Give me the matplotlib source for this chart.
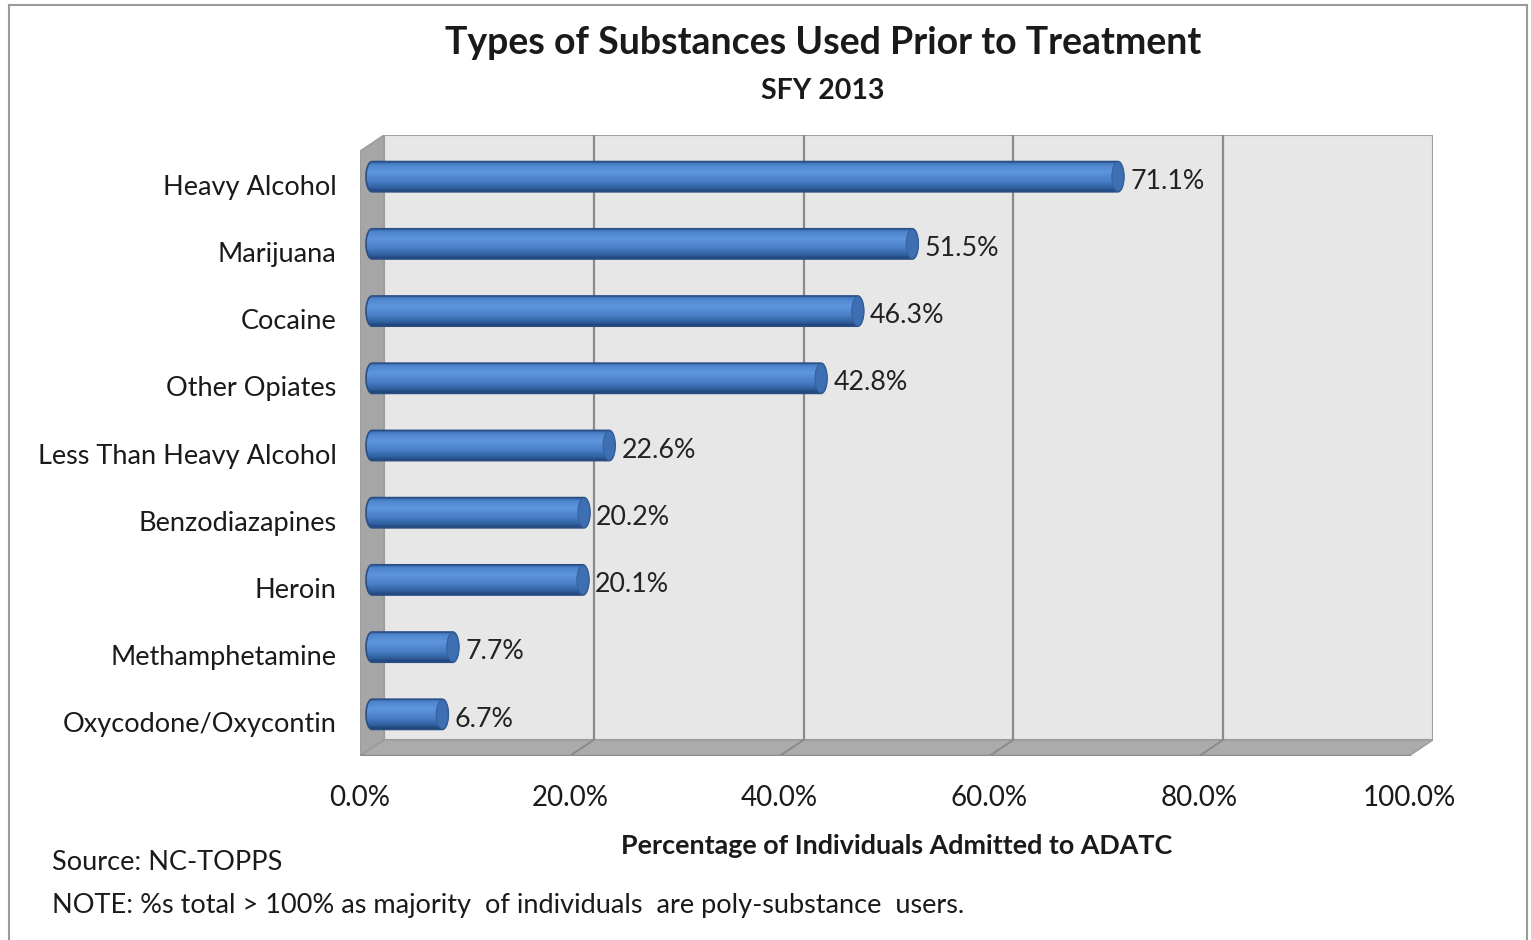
import numpy as np
import matplotlib.pyplot as plt
from matplotlib.patches import Polygon, Ellipse, PathPatch
from matplotlib.path import Path
from matplotlib.colors import LinearSegmentedColormap
from matplotlib.lines import Line2D

plt.rcParams['font.family'] = ['Lato', 'DejaVu Sans']

# data
substances = ['Heavy Alcohol', 'Marijuana', 'Cocaine', 'Other Opiates',
              'Less Than Heavy Alcohol', 'Benzodiazapines', 'Heroin',
              'Methamphetamine', 'Oxycodone/Oxycontin']
percents = [71.1, 51.5, 46.3, 42.8, 22.6, 20.2, 20.1, 7.7, 6.7]
xticks = [0, 20, 40, 60, 80, 100]

# 3d depth offsets (data units)
DX = 2.29
DY = 0.24
BAR_H = 0.45
RX = 0.57

fig = plt.figure(figsize=(15.31, 9.40), dpi=100)
ax = fig.add_axes([360 / 1531, 1 - 756 / 940, 1073 / 1531, 621 / 940])
for s in ax.spines.values():
    s.set_visible(False)

n = len(substances)
y_top = -0.5
y_bot = n - 0.5

# back wall
ax.add_patch(Polygon([(DX, y_top - DY), (100 + DX, y_top - DY),
                      (100 + DX, y_bot - DY), (DX, y_bot - DY)],
                     closed=True, facecolor='#e7e7e7', edgecolor='#a0a0a0',
                     lw=1.5, zorder=1))
for t in xticks[1:-1]:
    ax.plot([t + DX, t + DX], [y_top - DY, y_bot - DY], color='#8a8a8a',
            lw=1.6, zorder=2)

# left wall
ax.add_patch(Polygon([(0, y_top), (DX, y_top - DY), (DX, y_bot - DY), (0, y_bot)],
                     closed=True, facecolor='#a6a6a6', edgecolor='#9a9a9a',
                     lw=1, zorder=2))
# floor
ax.add_patch(Polygon([(0, y_bot), (100, y_bot), (100 + DX, y_bot - DY), (DX, y_bot - DY)],
                     closed=True, facecolor='#ababab', edgecolor='#9a9a9a',
                     lw=1, zorder=2))
ax.plot([0, 100], [y_bot, y_bot], color='#8c8c8c', lw=2.5, zorder=3)
for t in xticks[1:-1]:
    ax.plot([t + DX, t], [y_bot - DY, y_bot], color='#8a8a8a', lw=1.4, zorder=3)

# cylinder bars
cmap = LinearSegmentedColormap.from_list('cyl', [
    (0.0, '#2f5d9a'), (0.12, '#4f86cf'), (0.35, '#5e95dc'),
    (0.65, '#4a7fc6'), (0.88, '#2f5f9f'), (1.0, '#1f3f6e')])
grad = np.linspace(0, 1, 64).reshape(-1, 1)

for i, v in enumerate(percents):
    yc = i - DY / 2
    x0 = DX / 2
    x1 = v + DX / 2
    th = np.linspace(-np.pi / 2, np.pi / 2, 40)
    right = np.column_stack([x1 + RX * np.cos(th), yc + BAR_H / 2 * np.sin(th)])
    left = np.column_stack([x0 - RX * np.cos(th[::-1]), yc + BAR_H / 2 * np.sin(th[::-1])])
    verts = np.vstack([right, left, right[:1]])
    path = Path(verts, closed=True)
    body = PathPatch(path, facecolor='none', edgecolor='#2a4f85', lw=1.2, zorder=5)
    ax.add_patch(body)
    im = ax.imshow(grad, cmap=cmap, aspect='auto', interpolation='bilinear',
                   extent=[x0 - RX, x1 + RX, yc + BAR_H / 2, yc - BAR_H / 2],
                   zorder=4)
    im.set_clip_path(body)
    ax.add_patch(Ellipse((x1, yc), 2 * RX, BAR_H * 0.96, facecolor='#3d6fb2',
                         edgecolor='#34629f', lw=0.8, zorder=6))
    ax.text(x1 + RX + 0.6, yc + 0.07, f'{v}%', ha='left', va='center',
            fontsize=19.3, color='#222222', zorder=7)

ax.set_xlim(0, 100 + DX)
ax.set_ylim(8.5, -0.5 - DY)

ax.set_yticks(range(n))
ax.set_yticklabels(substances, fontsize=19.5, color='#1a1a1a')
ax.set_xticks(xticks)
ax.set_xticklabels([f'{t:.1f}%' for t in xticks], fontsize=20, color='#1a1a1a')
ax.tick_params(axis='y', length=0, pad=17)
ax.tick_params(axis='x', length=0, pad=21)

# titles and notes
fig.text(823 / 1531, 1 - 43 / 940, 'Types of Substances Used Prior to Treatment',
         ha='center', va='center', fontsize=27, fontweight='bold', color='#1a1a1a')
fig.text(823 / 1531, 1 - 91 / 940, 'SFY 2013', ha='center', va='center',
         fontsize=20.5, fontweight='bold', color='#1a1a1a')
fig.text(897 / 1531, 1 - 846 / 940, 'Percentage of Individuals Admitted to ADATC',
         ha='center', va='center', fontsize=19.4, fontweight='bold', color='#1a1a1a')
fig.text(52 / 1531, 1 - 863 / 940, 'Source: NC-TOPPS', ha='left', va='center',
         fontsize=19.5, color='#1a1a1a')
fig.text(52 / 1531, 1 - 905 / 940,
         'NOTE: %s total > 100% as majority  of individuals  are poly-substance  users.',
         ha='left', va='center', fontsize=19.5, color='#1a1a1a')

# chart frame
for xs, ys in [([9, 1527], [5, 5]), ([9, 9], [5, 940]), ([1527, 1527], [5, 940])]:
    fig.add_artist(Line2D([x / 1531 for x in xs], [1 - y / 940 for y in ys],
                          color='#9a9a9a', lw=1.5))

fig.savefig('out.png', dpi=100, facecolor='white')
